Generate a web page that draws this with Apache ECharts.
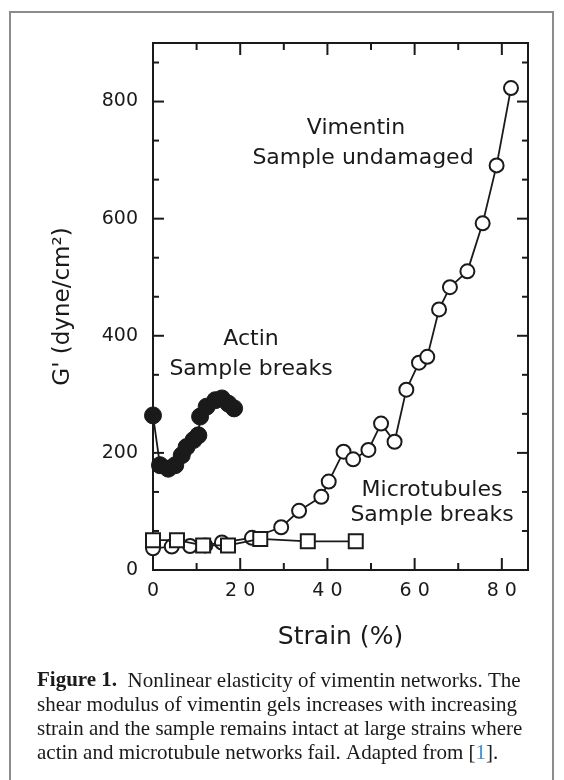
<!DOCTYPE html>
<html>
<head>
<meta charset="utf-8">
<script src="https://cdn.jsdelivr.net/npm/echarts@6/dist/echarts.min.js"></script>
<style>
html,body{margin:0;padding:0;background:#fff;}
#c{width:564px;height:780px;}
</style>
</head>
<body>
<div id="c"></div>
<script>
// Vimentin (open circles)
const vimentinX = [0, 4.3, 8.5, 12, 15.8, 22.7, 29.4, 33.5, 38.6, 40.3, 43.7, 45.9, 49.4, 52.3, 55.4, 58.1, 61.0, 62.9, 65.6, 68.1, 72.1, 75.6, 78.8, 82.1];
const vimentinY = [37, 40, 41, 42, 47, 55, 73, 101, 125, 151, 202, 189, 205, 250, 219, 308, 354, 364, 445, 483, 510, 592, 691, 823];
// Actin (filled circles)
const actinX = [0, 1.6, 3.5, 5.1, 6.6, 7.7, 9.3, 10.4, 10.8, 12.3, 14.3, 15.8, 17.3, 18.6];
const actinY = [264, 179, 173, 179, 196, 210, 222, 230, 262, 279, 290, 293, 284, 276];
// Microtubules (open squares)
const microX = [0, 5.5, 11.5, 17.2, 24.6, 35.5, 46.5];
const microY = [51, 51, 42, 42, 53, 49, 49];
// Axis ticks
const xTickLabels = [0, 20, 40, 60, 80];
const xMinorTicks = [10, 30, 50, 70];
const yTickLabels = [0, 200, 400, 600, 800];
const yMinorTicks = [200/3, 400/3, 800/3, 1000/3, 1400/3, 1600/3, 2000/3, 2200/3, 2600/3];

const X_MIN = 0, X_MAX = 86, Y_MIN = 0, Y_MAX = 900;
const pair = (xs, ys) => xs.map((x, i) => [x, ys[i]]);

const chart = echarts.init(document.getElementById('c'), null, {renderer: 'canvas'});
const ink = '#1a1a1a';
const sans = '"DejaVu Sans"';
const serif = '"Liberation Serif"';

function tickSeries(values, isX, len) {
  return {
    type: 'custom', xAxisIndex: 0, yAxisIndex: 0, clip: false, silent: true, z: 6,
    data: values.map(v => [v]),
    encode: isX ? {x: 0} : {y: 0},
    renderItem: function (params, api) {
      const v = api.value(0);
      const st = {stroke: ink, lineWidth: 2};
      if (isX) {
        const b = api.coord([v, Y_MIN]), t = api.coord([v, Y_MAX]);
        return {type: 'group', children: [
          {type: 'line', shape: {x1: b[0], y1: b[1], x2: b[0], y2: b[1] - len}, style: st},
          {type: 'line', shape: {x1: t[0], y1: t[1], x2: t[0], y2: t[1] + len}, style: st}
        ]};
      } else {
        const l = api.coord([X_MIN, v]), r = api.coord([X_MAX, v]);
        return {type: 'group', children: [
          {type: 'line', shape: {x1: l[0], y1: l[1], x2: l[0] + len, y2: l[1]}, style: st},
          {type: 'line', shape: {x1: r[0], y1: r[1], x2: r[0] - len, y2: r[1]}, style: st}
        ]};
      }
    }
  };
}

const option = {
  backgroundColor: '#fff',
  animation: false,
  grid: {left: 153, top: 43, right: 36, bottom: 210, show: true, borderColor: ink, borderWidth: 2, backgroundColor: 'transparent'},
  xAxis: {
    type: 'value', min: X_MIN, max: X_MAX, interval: 20,
    axisLine: {show: false}, splitLine: {show: false}, axisTick: {show: false},
    axisLabel: {show: true, margin: 12, fontSize: 19, fontFamily: sans, color: ink,
      formatter: v => xTickLabels.indexOf(v) >= 0 ? String(v).split('').join(' ') : ''},
    name: 'Strain (%)', nameLocation: 'middle', nameGap: 55,
    nameTextStyle: {fontSize: 25, fontFamily: sans, color: ink}
  },
  yAxis: {
    type: 'value', min: Y_MIN, max: Y_MAX, interval: 200,
    axisLine: {show: false}, splitLine: {show: false}, axisTick: {show: false},
    axisLabel: {show: true, margin: 15, fontSize: 19, fontFamily: sans, color: ink,
      formatter: v => yTickLabels.indexOf(v) >= 0 ? String(v) : ''},
    name: "G' (dyne/cm\u00B2)", nameLocation: 'middle', nameGap: 78, nameRotate: 90,
    nameTextStyle: {fontSize: 23, fontFamily: sans, color: ink}
  },
  series: [
    tickSeries(xTickLabels, true, 12),
    tickSeries(xMinorTicks, true, 7),
    tickSeries(yTickLabels, false, 11),
    tickSeries(yMinorTicks, false, 6),
    {
      name: 'Vimentin', type: 'line',
      data: pair(vimentinX, vimentinY),
      symbol: 'circle', symbolSize: 14,
      lineStyle: {color: ink, width: 1.8},
      itemStyle: {color: '#fff', borderColor: ink, borderWidth: 2},
      z: 3
    },
    {
      name: 'Actin', type: 'line',
      data: pair(actinX, actinY),
      symbol: 'circle', symbolSize: 17,
      lineStyle: {color: ink, width: 1.8},
      itemStyle: {color: ink, borderColor: ink, borderWidth: 1},
      z: 4
    },
    {
      name: 'Microtubules', type: 'line',
      data: pair(microX, microY),
      symbol: 'rect', symbolSize: 14,
      lineStyle: {color: ink, width: 1.8},
      itemStyle: {color: '#fff', borderColor: ink, borderWidth: 2},
      z: 5
    }
  ],
  graphic: [
    {type: 'rect', shape: {x: 10, y: 12, width: 543, height: 820}, style: {fill: 'none', stroke: '#8c8c8c', lineWidth: 2}, silent: true, z: -1},
    {type: 'text', style: {text: 'Vimentin', x: 356, y: 128, align: 'center', verticalAlign: 'middle', textAlign: 'center', textVerticalAlign: 'middle', font: '22px ' + sans, fill: ink}},
    {type: 'text', style: {text: 'Sample undamaged', x: 363, y: 158, align: 'center', verticalAlign: 'middle', textAlign: 'center', textVerticalAlign: 'middle', font: '22px ' + sans, fill: ink}},
    {type: 'text', style: {text: 'Actin', x: 251, y: 339, align: 'center', verticalAlign: 'middle', textAlign: 'center', textVerticalAlign: 'middle', font: '22px ' + sans, fill: ink}},
    {type: 'text', style: {text: 'Sample breaks', x: 251, y: 369, align: 'center', verticalAlign: 'middle', textAlign: 'center', textVerticalAlign: 'middle', font: '22px ' + sans, fill: ink}},
    {type: 'text', style: {text: 'Microtubules', x: 432, y: 490, align: 'center', verticalAlign: 'middle', textAlign: 'center', textVerticalAlign: 'middle', font: '22px ' + sans, fill: ink}},
    {type: 'text', style: {text: 'Sample breaks', x: 432, y: 515, align: 'center', verticalAlign: 'middle', textAlign: 'center', textVerticalAlign: 'middle', font: '22px ' + sans, fill: ink}},
    {type: 'text', style: {
      x: 37, y: 669,
      text: '{b|Figure 1.}  Nonlinear elasticity of vimentin networks. The\nshear modulus of vimentin gels increases with increasing\nstrain and the sample remains intact at large strains where\nactin and microtubule networks fail. Adapted from [{bl|1}].',
      font: '21px ' + serif, fill: ink, lineHeight: 24,
      rich: {
        b: {fontWeight: 'bold', fontFamily: serif, fontSize: 21, fill: ink, color: ink, lineHeight: 24},
        bl: {fontFamily: serif, fontSize: 21, fill: '#3a8fd6', color: '#3a8fd6', lineHeight: 24}
      }
    }}
  ]
};
chart.setOption(option);
</script>
</body>
</html>
